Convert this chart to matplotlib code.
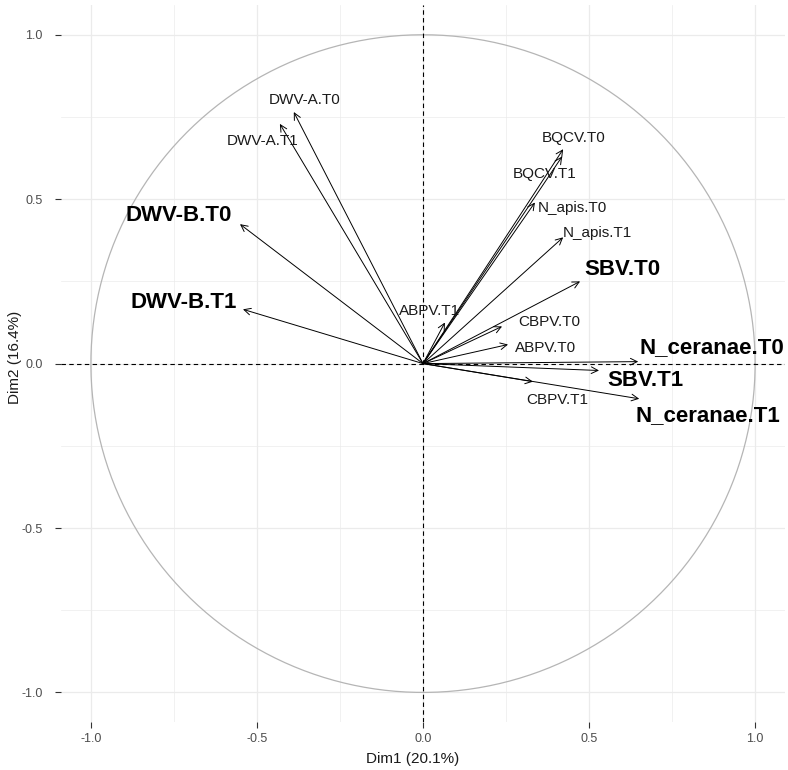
import numpy as np
import matplotlib.pyplot as plt

plt.rcParams['font.family'] = ['Liberation Sans', 'DejaVu Sans']

# variable coordinates on the first two dimensions
variables = ['DWV-A.T0', 'DWV-A.T1', 'DWV-B.T0', 'DWV-B.T1',
             'BQCV.T0', 'BQCV.T1', 'N_apis.T0', 'N_apis.T1',
             'SBV.T0', 'ABPV.T1', 'CBPV.T0', 'ABPV.T0',
             'N_ceranae.T0', 'SBV.T1', 'CBPV.T1', 'N_ceranae.T1']
dim1 = [-0.389, -0.431, -0.551, -0.542,
        0.422, 0.419, 0.337, 0.422,
        0.473, 0.066, 0.238, 0.256,
        0.648, 0.530, 0.331, 0.651]
dim2 = [0.765, 0.729, 0.424, 0.165,
        0.652, 0.630, 0.490, 0.384,
        0.250, 0.125, 0.113, 0.058,
        0.006, -0.021, -0.055, -0.107]
highlight = ['DWV-B.T0', 'DWV-B.T1', 'SBV.T0', 'SBV.T1',
             'N_ceranae.T0', 'N_ceranae.T1']

# label placement (repelled text positions)
label_pos = {
    'DWV-A.T0': (-0.355, 0.802), 'DWV-A.T1': (-0.482, 0.677),
    'DWV-B.T0': (-0.735, 0.451), 'DWV-B.T1': (-0.720, 0.186),
    'BQCV.T0': (0.455, 0.686), 'BQCV.T1': (0.367, 0.576),
    'N_apis.T0': (0.449, 0.473), 'N_apis.T1': (0.524, 0.396),
    'SBV.T0': (0.599, 0.287), 'ABPV.T1': (0.021, 0.159),
    'CBPV.T0': (0.380, 0.128), 'ABPV.T0': (0.370, 0.046),
    'N_ceranae.T0': (0.870, 0.049), 'SBV.T1': (0.669, -0.052),
    'CBPV.T1': (0.404, -0.110), 'N_ceranae.T1': (0.858, -0.157),
}

fig = plt.figure(figsize=(7.88, 7.70), dpi=100)
ax = fig.add_axes([0.0774, 0.0623, 0.9188, 0.931])

lim = 1.09
ax.set_xlim(-lim, lim)
ax.set_ylim(-lim, lim)

# grid like theme_minimal
grid_c = '#EBEBEB'
for v in [-1.0, -0.5, 0.0, 0.5, 1.0]:
    ax.axvline(v, color=grid_c, lw=0.9, zorder=0)
    ax.axhline(v, color=grid_c, lw=0.9, zorder=0)
for v in [-0.75, -0.25, 0.25, 0.75]:
    ax.axvline(v, color=grid_c, lw=0.5, zorder=0)
    ax.axhline(v, color=grid_c, lw=0.5, zorder=0)

# correlation circle
t = np.linspace(0, 2 * np.pi, 400)
ax.plot(np.cos(t), np.sin(t), color='#B5B5B5', lw=0.9, zorder=1)

ax.axvline(0, color='black', lw=0.8, ls=(0, (4, 3)), zorder=2)
ax.axhline(0, color='black', lw=0.8, ls=(0, (4, 3)), zorder=2)

for name, x, y in zip(variables, dim1, dim2):
    ax.annotate('', xy=(x, y), xytext=(0, 0),
                arrowprops=dict(arrowstyle='->', lw=0.7, color='black',
                                shrinkA=0, shrinkB=0,
                                mutation_scale=12),
                zorder=3)
    tx, ty = label_pos[name]
    if name in highlight:
        ax.text(tx, ty, name, fontsize=16, fontweight='bold',
                ha='center', va='center', color='black', zorder=4)
    else:
        ax.text(tx, ty, name, fontsize=11, ha='center', va='center',
                color='#1A1A1A', zorder=4)

ticks = [-1.0, -0.5, 0.0, 0.5, 1.0]
ax.set_xticks(ticks)
ax.set_yticks(ticks)
ax.set_xticklabels(['-1.0', '-0.5', '0.0', '0.5', '1.0'])
ax.set_yticklabels(['-1.0', '-0.5', '0.0', '0.5', '1.0'])
ax.tick_params(length=4, width=0.8, color='#333333', labelsize=9,
               labelcolor='#4D4D4D')
ax.tick_params(axis='x', pad=4)
ax.tick_params(axis='y', pad=9)
for s in ax.spines.values():
    s.set_visible(False)

ax.set_xlabel('Dim1 (20.1%)', fontsize=11, color='#1A1A1A')
ax.set_ylabel('Dim2 (16.4%)', fontsize=11, color='#1A1A1A')
ax.xaxis.set_label_coords(0.485, -0.042)
ax.yaxis.set_label_coords(-0.054, 0.509)

fig.savefig('out.png', dpi=100)
